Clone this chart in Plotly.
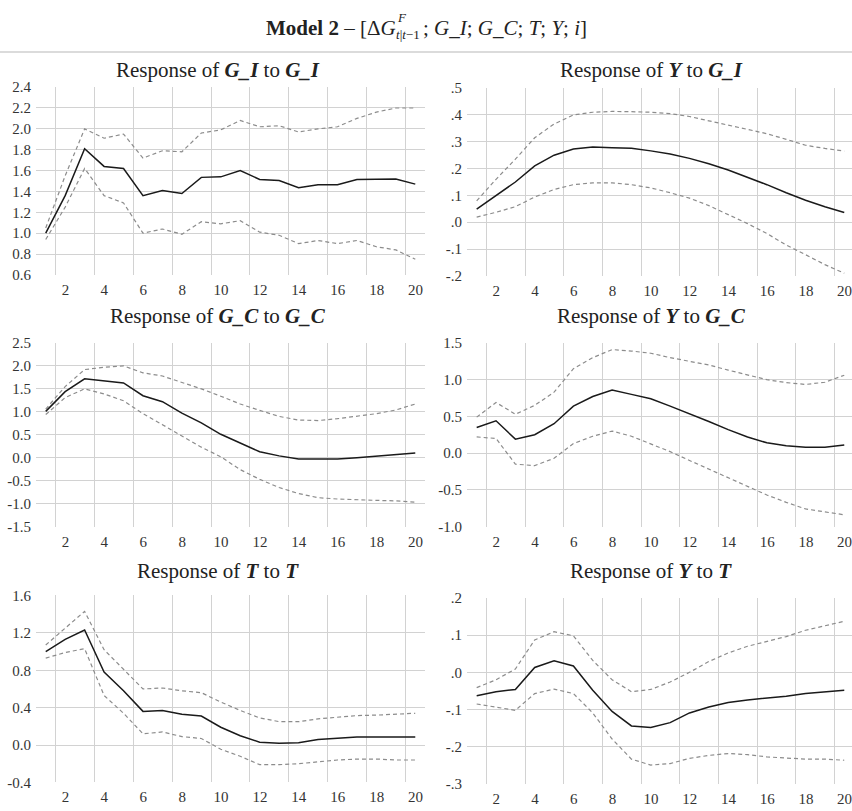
import plotly.graph_objects as go

# ---------------- data ----------------
periods = list(range(1, 21))
x_tick_text = ["2", "4", "6", "8", "10", "12", "14", "16", "18", "20"]

gi_gi_mid = [1.00, 1.36, 1.81, 1.64, 1.62, 1.36, 1.41, 1.38, 1.535, 1.54,
             1.60, 1.515, 1.505, 1.435, 1.465, 1.465, 1.515, 1.515, 1.52, 1.47]
gi_gi_up = [1.05, 1.55, 2.00, 1.91, 1.95, 1.72, 1.79, 1.78, 1.96, 1.99,
            2.08, 2.02, 2.03, 1.97, 2.00, 2.02, 2.10, 2.16, 2.20, 2.20]
gi_gi_lo = [0.94, 1.25, 1.62, 1.36, 1.29, 1.00, 1.04, 0.99, 1.11, 1.09,
            1.12, 1.01, 0.98, 0.90, 0.93, 0.90, 0.93, 0.87, 0.84, 0.75]

y_gi_mid = [0.049, 0.10, 0.15, 0.21, 0.25, 0.273, 0.28, 0.278, 0.276, 0.266,
            0.254, 0.238, 0.218, 0.195, 0.168, 0.14, 0.11, 0.082, 0.058, 0.036]
y_gi_up = [0.08, 0.16, 0.235, 0.315, 0.366, 0.40, 0.41, 0.413, 0.412, 0.41,
           0.405, 0.394, 0.378, 0.362, 0.345, 0.33, 0.309, 0.287, 0.275, 0.265]
y_gi_lo = [0.019, 0.037, 0.058, 0.094, 0.122, 0.14, 0.147, 0.147, 0.14, 0.128,
           0.11, 0.09, 0.062, 0.029, -0.005, -0.042, -0.085, -0.121, -0.158, -0.19]

gc_gc_mid = [1.01, 1.44, 1.72, 1.68, 1.63, 1.35, 1.22, 0.97, 0.76, 0.51,
             0.32, 0.13, 0.04, -0.03, -0.03, -0.03, 0.00, 0.03, 0.07, 0.10]
gc_gc_up = [1.06, 1.55, 1.92, 1.97, 2.00, 1.85, 1.78, 1.64, 1.50, 1.34,
            1.17, 1.03, 0.90, 0.82, 0.81, 0.85, 0.90, 0.96, 1.04, 1.17]
gc_gc_lo = [0.94, 1.31, 1.50, 1.39, 1.24, 0.96, 0.72, 0.47, 0.23, 0.02,
            -0.26, -0.47, -0.65, -0.78, -0.87, -0.90, -0.92, -0.93, -0.94, -0.97]

y_gc_mid = [0.35, 0.44, 0.19, 0.25, 0.40, 0.64, 0.77, 0.86, 0.80, 0.74,
            0.64, 0.54, 0.43, 0.32, 0.22, 0.14, 0.10, 0.08, 0.08, 0.11]
y_gc_up = [0.49, 0.69, 0.53, 0.65, 0.83, 1.15, 1.30, 1.41, 1.39, 1.36,
           1.30, 1.25, 1.20, 1.13, 1.065, 1.00, 0.96, 0.935, 0.965, 1.06]
y_gc_lo = [0.22, 0.20, -0.15, -0.17, -0.07, 0.13, 0.23, 0.30, 0.23, 0.13,
           0.02, -0.10, -0.22, -0.33, -0.46, -0.57, -0.67, -0.76, -0.80, -0.84]

t_t_mid = [1.00, 1.13, 1.23, 0.78, 0.58, 0.36, 0.37, 0.33, 0.31, 0.19,
           0.10, 0.03, 0.02, 0.025, 0.06, 0.077, 0.087, 0.087, 0.087, 0.087]
t_t_up = [1.07, 1.25, 1.43, 1.02, 0.81, 0.60, 0.61, 0.58, 0.56, 0.46,
          0.37, 0.29, 0.25, 0.25, 0.28, 0.30, 0.315, 0.32, 0.33, 0.34]
t_t_lo = [0.93, 0.99, 1.03, 0.53, 0.34, 0.12, 0.14, 0.09, 0.07, -0.045,
          -0.12, -0.21, -0.21, -0.20, -0.18, -0.16, -0.15, -0.15, -0.16, -0.16]

y_t_mid = [-0.063, -0.052, -0.046, 0.013, 0.031, 0.017, -0.048, -0.105, -0.144, -0.148,
           -0.135, -0.109, -0.093, -0.081, -0.074, -0.070, -0.064, -0.057, -0.052, -0.048]
y_t_up = [-0.041, -0.020, 0.009, 0.087, 0.109, 0.098, 0.032, -0.020, -0.052, -0.046,
          -0.026, 0.000, 0.029, 0.052, 0.070, 0.083, 0.096, 0.113, 0.125, 0.137]
y_t_lo = [-0.085, -0.093, -0.102, -0.057, -0.045, -0.057, -0.109, -0.179, -0.233, -0.249,
          -0.245, -0.231, -0.223, -0.218, -0.221, -0.227, -0.231, -0.233, -0.233, -0.236]

ticks_gi_gi = ["0.6", "0.8", "1.0", "1.2", "1.4", "1.6", "1.8", "2.0", "2.2", "2.4"]
ticks_y_gi = ["-.2", "-.1", ".0", ".1", ".2", ".3", ".4", ".5"]
ticks_gc_gc = ["-1.5", "-1.0", "-0.5", "0.0", "0.5", "1.0", "1.5", "2.0", "2.5"]
ticks_y_gc = ["-1.0", "-0.5", "0.0", "0.5", "1.0", "1.5"]
ticks_t_t = ["-0.4", "0.0", "0.4", "0.8", "1.2", "1.6"]
ticks_y_t = ["-.3", "-.2", "-.1", ".0", ".1", ".2"]

titles = [
    "Response of <b><i>G_I</i></b> to <b><i>G_I</i></b>",
    "Response of <b><i>Y</i></b> to <b><i>G_I</i></b>",
    "Response of <b><i>G_C</i></b> to <b><i>G_C</i></b>",
    "Response of <b><i>Y</i></b> to <b><i>G_C</i></b>",
    "Response of <b><i>T</i></b> to <b><i>T</i></b>",
    "Response of <b><i>Y</i></b> to <b><i>T</i></b>",
]
# main title, split so that the superscript F sits above the subscript t|t-1
title_head = "<b>Model 2</b> – [Δ<i>G</i>"
title_sup = "<i>F</i>"
title_sub = "<i>t</i>|<i>t</i>−1"
title_tail = "; <i>G_I</i>; <i>G_C</i>; <i>T</i>; <i>Y</i>; <i>i</i>]"

panels = [
    (gi_gi_mid, gi_gi_up, gi_gi_lo, ticks_gi_gi),
    (y_gi_mid, y_gi_up, y_gi_lo, ticks_y_gi),
    (gc_gc_mid, gc_gc_up, gc_gc_lo, ticks_gc_gc),
    (y_gc_mid, y_gc_up, y_gc_lo, ticks_y_gc),
    (t_t_mid, t_t_up, t_t_lo, ticks_t_t),
    (y_t_mid, y_t_up, y_t_lo, ticks_y_t),
]

# ---------------- layout geometry (pixels) ----------------
W, H = 852, 811
col_x = [(36, 425), (467, 852)]
col_xrange = [[0.5, 20.5], [0.5, 20.4]]
panel_y = [(80.7, 272.3), (81.7, 273.3),
           (341.7, 529.0), (341.7, 529.0),
           (599.3, 790.0), (601.7, 791.7)]
title_y = [63, 63, 314, 314, 574, 574]
title_x = [218, 651]

FONT = '"Liberation Serif", "Times New Roman", serif'
GRID = "#d2d2d2"
TICKFONT = dict(family=FONT, size=15, color="#333333")

fig = go.Figure()
layout = dict(
    width=W, height=H,
    margin=dict(l=0, r=0, t=0, b=0),
    paper_bgcolor="white", plot_bgcolor="white",
    showlegend=False,
    font=dict(family=FONT, size=15, color="#333333"),
)
annotations = []

for i, (mid, up, lo, yt) in enumerate(panels):
    n = i + 1
    col = i % 2
    xa = f"x{n}" if n > 1 else "x"
    ya = f"y{n}" if n > 1 else "y"
    for series, color, width, dash in ((up, "#8c8c8c", 1.2, "4px,3px"),
                                       (lo, "#8c8c8c", 1.2, "4px,3px"),
                                       (mid, "#1a1a1a", 1.5, "solid")):
        fig.add_trace(go.Scatter(x=periods, y=series, mode="lines", xaxis=xa, yaxis=ya,
                                 line=dict(color=color, width=width, dash=dash),
                                 hoverinfo="skip"))
    x0, x1 = col_x[col]
    top, bot = panel_y[i]
    yvals = [float(t) for t in yt]
    layout[f"xaxis{n if n > 1 else ''}"] = dict(
        domain=[x0 / W, x1 / W], range=col_xrange[col], anchor=ya,
        tickmode="array", tickvals=[int(t) - 0.5 for t in x_tick_text], ticktext=x_tick_text,
        ticklabelshift=10, ticklabelstandoff=4, ticklabeloverflow="allow",
        showgrid=True, gridcolor=GRID, gridwidth=1.3, zeroline=False, showline=False,
        ticks="", tickfont=TICKFONT, fixedrange=True,
    )
    layout[f"yaxis{n if n > 1 else ''}"] = dict(
        domain=[1 - bot / H, 1 - top / H], range=[yvals[0], yvals[-1]], anchor=xa,
        tickmode="array", tickvals=yvals, ticktext=yt, ticklabelstandoff=4,
        ticklabeloverflow="allow",
        showgrid=True, gridcolor=GRID, gridwidth=1.3, zeroline=False, showline=False,
        ticks="", tickfont=TICKFONT, fixedrange=True,
    )
    annotations.append(dict(text=titles[i], x=title_x[col] / W, y=1 - title_y[i] / H,
                            xref="paper", yref="paper", xanchor="center", yanchor="middle",
                            showarrow=False, font=dict(family=FONT, size=21, color="#222222")))

# main title pieces
X0 = 398     # px where the head text ends
SUBX = 395   # px where the subscript / superscript start
SUBW = 26    # px width of the subscript block
TY = 20      # px vertical centre of the title
SPLIT = 18   # px boundary between superscript and subscript
tfont = dict(family=FONT, size=21, color="#222222")
sfont = dict(family=FONT, size=13, color="#222222")
annotations += [
    dict(text=title_head, x=X0 / W, y=1 - TY / H, xanchor="right", yanchor="middle", font=tfont),
    dict(text=title_sup, x=(SUBX + 1) / W, y=1 - SPLIT / H, xanchor="left", yanchor="bottom",
         font=sfont, borderpad=0),
    dict(text=title_sub, x=SUBX / W, y=1 - SPLIT / H, xanchor="left", yanchor="top",
         font=sfont, borderpad=0),
    dict(text=title_tail, x=(SUBX + SUBW) / W, y=1 - TY / H, xanchor="left", yanchor="middle",
         font=tfont),
]
for a in annotations[-4:]:
    a.update(xref="paper", yref="paper", showarrow=False)

layout["annotations"] = annotations
layout["shapes"] = [dict(type="line", xref="paper", yref="paper", x0=0, x1=1,
                         y0=1 - 45 / H, y1=1 - 45 / H, line=dict(color="#cfcfcf", width=1.5))]
fig.update_layout(**layout)

fig.write_html("out.html", config={"displayModeBar": False},
               post_script="document.body.style.margin='0';document.body.style.overflow='hidden';")
